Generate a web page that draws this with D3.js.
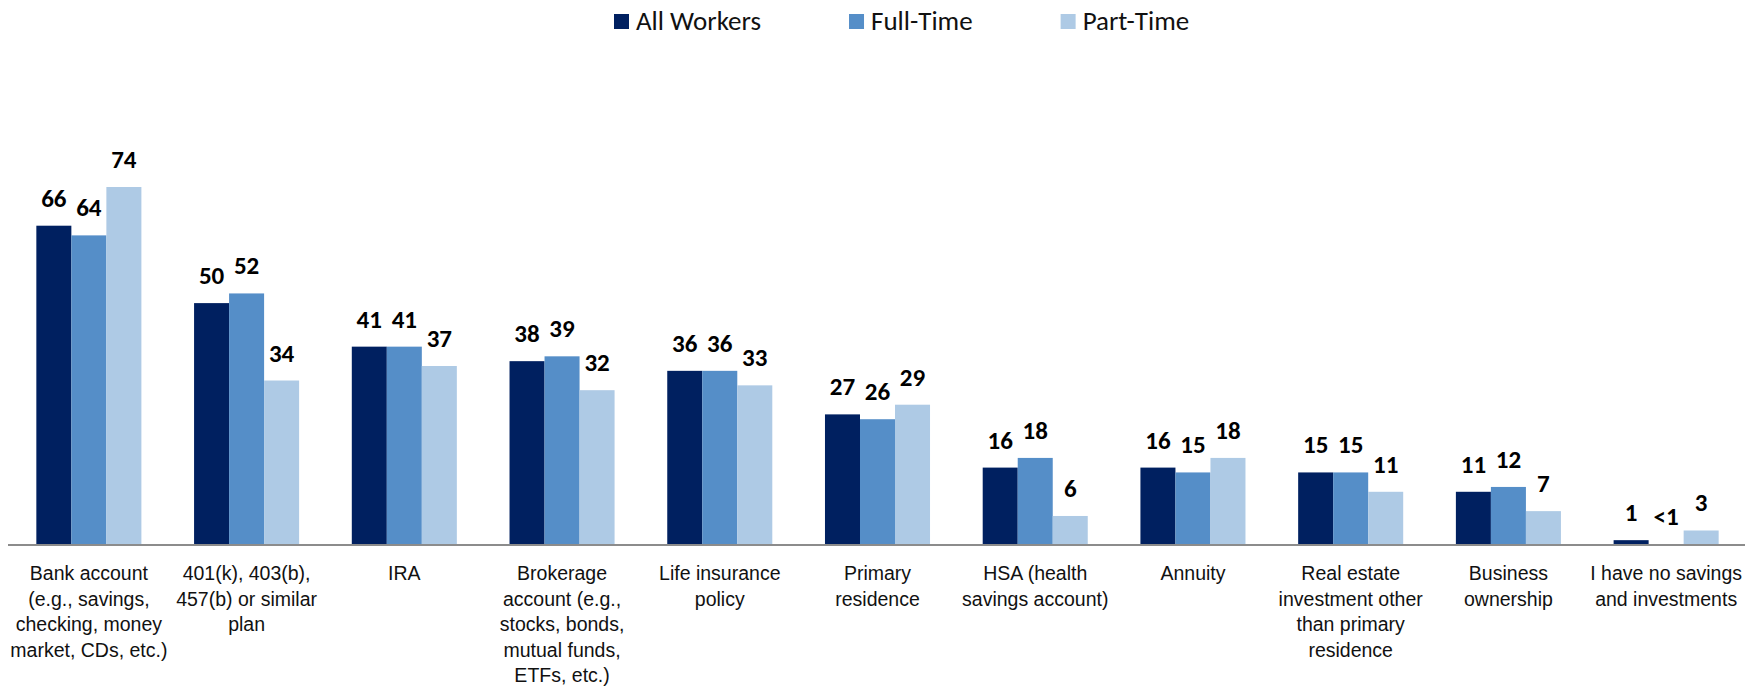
<!DOCTYPE html>
<html>
<head>
<meta charset="utf-8">
<script src="https://cdn.jsdelivr.net/npm/d3@7"></script>
<style>
  body { margin: 0; background: #fff; }
  svg { display: block; font-family: Carlito, Calibri, Lato, "Open Sans", sans-serif; }
  .axis path { stroke: #8c8c8c; stroke-width: 2; }
  .cat-label { font-size: 19.5px; fill: #111; }
  .val-label { font-size: 25px; font-weight: bold; fill: #000; }
  .legend text { font-size: 27px; fill: #111; }
</style>
</head>
<body>
<svg width="1754" height="688"></svg>
<script>
var categories = [
    ["Bank account", "(e.g., savings,", "checking, money", "market, CDs, etc.)"],
    ["401(k), 403(b),", "457(b) or similar", "plan"],
    ["IRA"],
    ["Brokerage", "account (e.g.,", "stocks, bonds,", "mutual funds,", "ETFs, etc.)"],
    ["Life insurance", "policy"],
    ["Primary", "residence"],
    ["HSA (health", "savings account)"],
    ["Annuity"],
    ["Real estate", "investment other", "than primary", "residence"],
    ["Business", "ownership"],
    ["I have no savings", "and investments"]
];
var series = ["All Workers", "Full-Time", "Part-Time"];
var colors = ["#002060", "#558ec8", "#aecae5"];

var allWorkers = [66, 50, 41, 38, 36, 27, 16, 16, 15, 11, 1];
var fullTime   = [64, 52, 41, 39, 36, 26, 18, 15, 15, 12, 0.2];   // last one shown as "<1"
var partTime   = [74, 34, 37, 32, 33, 29, 6, 18, 11, 7, 3];

var values = [allWorkers, fullTime, partTime];

var svg = d3.select("svg");
var baseY = 545;

var catKeys = categories.map(function(c, i) { return i; });

var x0 = d3.scaleBand().domain(catKeys).range([10, 1745])
    .paddingInner(0.334).paddingOuter(0.167);
var x1 = d3.scaleBand().domain(series).range([0, x0.bandwidth()]);
var y = d3.scaleLinear().domain([0, 74]).range([baseY, 187]);

function fmt(v) { return v < 1 ? "<1" : d3.format("d")(v); }

var groups = svg.selectAll(".group")
    .data(catKeys)
    .enter().append("g")
        .attr("class", "group")
        .attr("transform", function(i) { return "translate(" + x0(i) + ",0)"; });

groups.selectAll("rect")
    .data(function(i) { return series.map(function(s, k) { return {s: s, k: k, v: values[k][i]}; }); })
    .enter().append("rect")
        .attr("x", function(d) { return x1(d.s); })
        .attr("width", x1.bandwidth())
        .attr("y", function(d) { return y(d.v); })
        .attr("height", function(d) { return baseY - y(d.v); })
        .attr("fill", function(d) { return colors[d.k]; });

groups.selectAll(".val-label")
    .data(function(i) { return series.map(function(s, k) { return {s: s, k: k, v: values[k][i]}; }); })
    .enter().append("text")
        .attr("class", "val-label")
        .attr("text-anchor", "middle")
        .attr("x", function(d) { return x1(d.s) + x1.bandwidth() / 2; })
        .attr("y", function(d) { return y(d.v) - 19; })
        .text(function(d) { return fmt(d.v); });

// x axis: line only, multi-line labels added below
var xAxis = d3.axisBottom(x0).tickSize(0).tickFormat("");
var axisG = svg.append("g")
    .attr("class", "axis")
    .attr("transform", "translate(0," + baseY + ")")
    .call(xAxis);
axisG.select(".domain").attr("d", "M8,0H1745");

axisG.selectAll(".tick").each(function(i) {
    var t = d3.select(this).append("text")
        .attr("class", "cat-label")
        .attr("text-anchor", "middle")
        .attr("y", 35);
    categories[i].forEach(function(line, j) {
        t.append("tspan").attr("x", 0).attr("dy", j === 0 ? 0 : 25.5).text(line);
    });
});

// legend
var legend = svg.append("g").attr("class", "legend");
var lx = 614;
series.forEach(function(s, k) {
    legend.append("rect")
        .attr("x", lx).attr("y", 14)
        .attr("width", 15).attr("height", 15)
        .attr("fill", colors[k]);
    var t = legend.append("text")
        .attr("x", lx + 22).attr("y", 29.5)
        .text(s);
    lx = lx + 22 + t.node().getComputedTextLength() + 88;
});
</script>
</body>
</html>
